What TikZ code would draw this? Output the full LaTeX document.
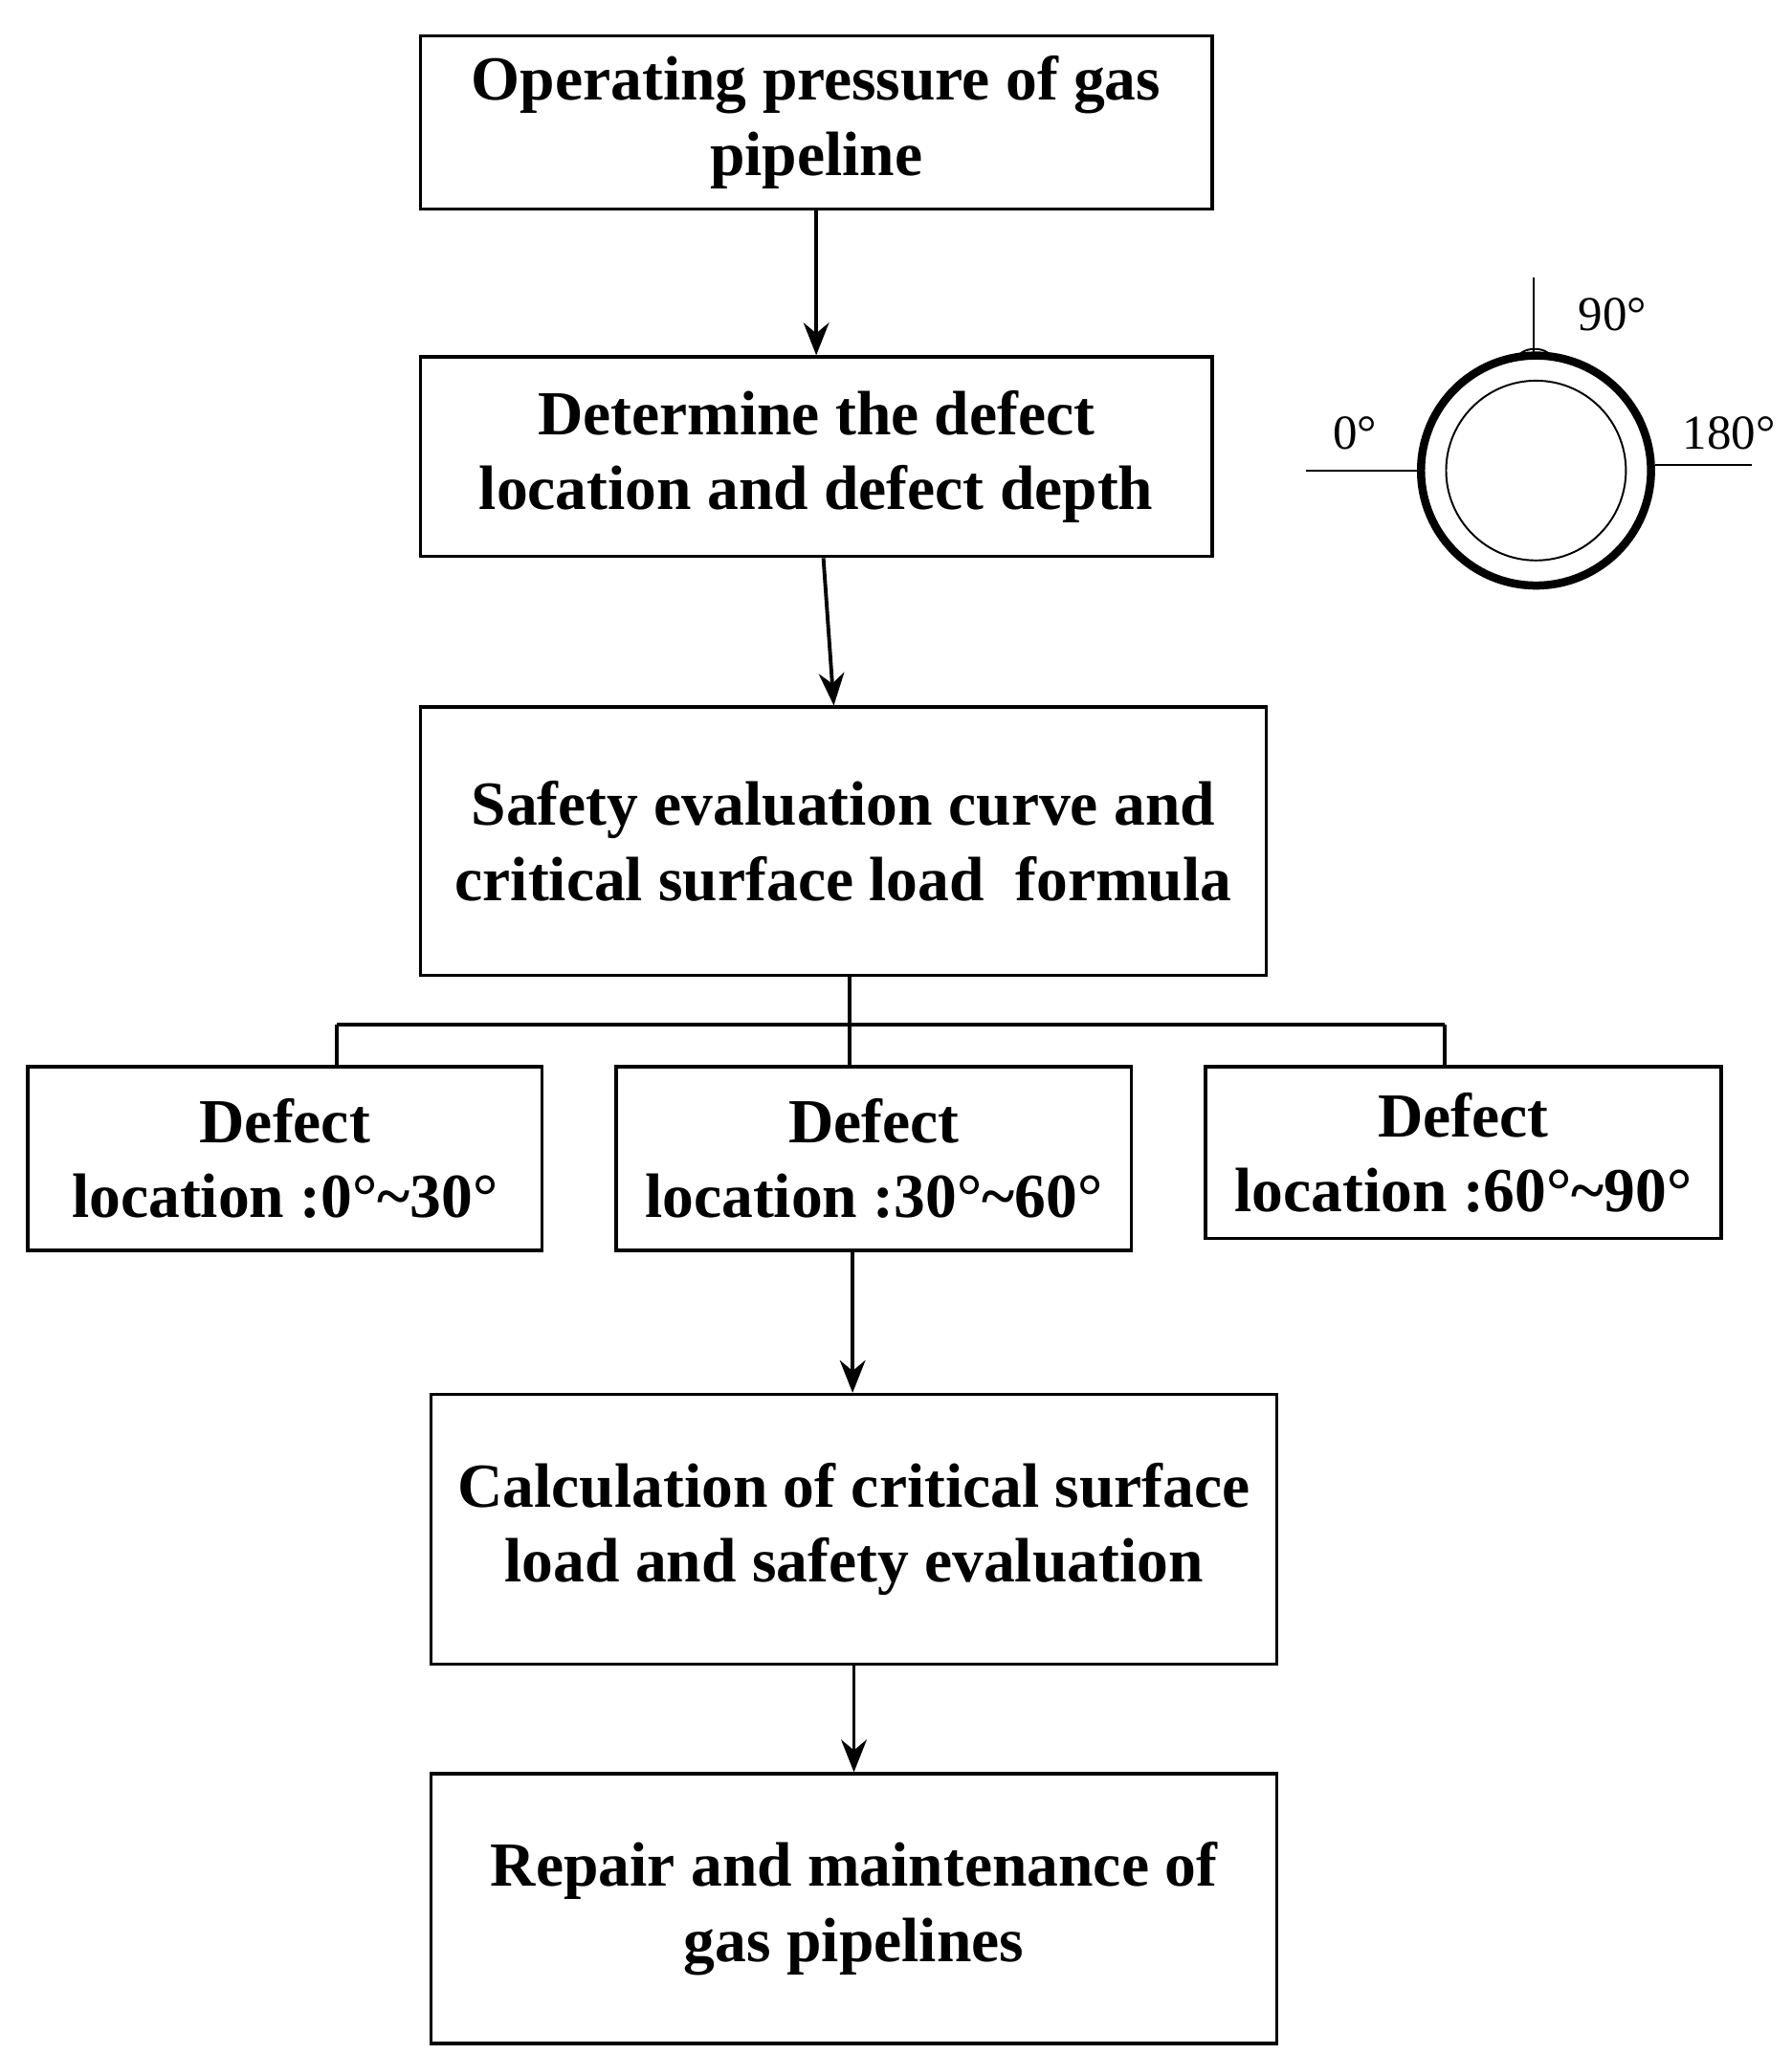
\documentclass[tikz,border=0pt]{standalone}
\usepackage{fontspec}
\setmainfont{Liberation Serif}
\usetikzlibrary{arrows.meta}
\tikzset{
  box/.style={draw, line width=1.4pt, align=center, inner sep=2pt,
    font=\fontsize{27}{32.4}\selectfont\bfseries},
  flow/.style={-{Stealth[length=14pt,width=11pt]}, line width=1.6pt},
  link/.style={line width=1.6pt},
  deg/.style={font=\fontsize{21}{24}\selectfont}
}
\begin{document}
\begin{tikzpicture}[x=0.02cm,y=-0.02cm]
  \useasboundingbox (0,0) rectangle (1355,1554);
  % Main chain
  \node[box, minimum width=599*0.02cm, minimum height=131*0.02cm] (pres) at (617.5,92.5) {Operating pressure of gas\\pipeline};
  \node[box, minimum width=599*0.02cm, minimum height=151*0.02cm] (loc) at (617.5,345.5) {Determine the defect\\location and defect depth};
  \node[box, minimum width=640*0.02cm, minimum height=203*0.02cm] (curve) at (638,636.5) {Safety evaluation curve and\\critical surface load\ \ formula};
  % Defect locations
  \node[box, minimum width=389*0.02cm, minimum height=139*0.02cm] (dA) at (215.5,876.5) {Defect\\location :0°\textasciitilde30°};
  \node[box, minimum width=390*0.02cm, minimum height=139*0.02cm] (dB) at (661,876.5) {Defect\\location :30°\textasciitilde60°};
  \node[box, minimum width=390*0.02cm, minimum height=130*0.02cm] (dC) at (1107,872) {Defect\\location :60°\textasciitilde90°};
  \node[box, minimum width=640*0.02cm, minimum height=204*0.02cm] (calc) at (646,1157) {Calculation of critical surface\\load and safety evaluation};
  \node[box, minimum width=640*0.02cm, minimum height=204*0.02cm] (repair) at (646,1444) {Repair and maintenance of\\gas pipelines};

  \draw[flow] (pres) -- (loc);
  \draw[flow] (loc) -- (curve);
  % Branching
  \coordinate (jL) at (255,775);
  \coordinate (jM) at (643,775);
  \coordinate (jR) at (1093,775);
  \draw[link] (curve.south -| jM) -- (jM);
  \draw[link] (jL) -- (jR);
  \draw[link] (jL) -- (jL |- dA.north);
  \draw[link] (jM) -- (jM |- dB.north);
  \draw[link] (jR) -- (jR |- dC.north);
  \draw[flow] (dB.south -| 645,0) -- (calc.north -| 645,0);
  \draw[flow] (calc) -- (repair);

  % Pipe cross-section
  \coordinate (pipe) at (1162,356);
  \draw[line width=3.5pt] (pipe) circle[radius=87];
  \draw[line width=0.8pt] (pipe) circle[radius=68];
  \draw[line width=0.8pt] (1148,272) arc[start angle=180, end angle=360, x radius=13, y radius=8];
  \draw[line width=0.8pt] (1160,210) -- (1160,268);
  \draw[line width=0.8pt] (988,356) -- (1072,356);
  \draw[line width=0.8pt] (1252,352) -- (1325,352);
  \node[deg] (n90) at (1220,238) {90°};
  \node[deg] (n0) at (1025,328) {0°};
  \node[deg] (n180) at (1308,328) {180°};
\end{tikzpicture}
\end{document}
